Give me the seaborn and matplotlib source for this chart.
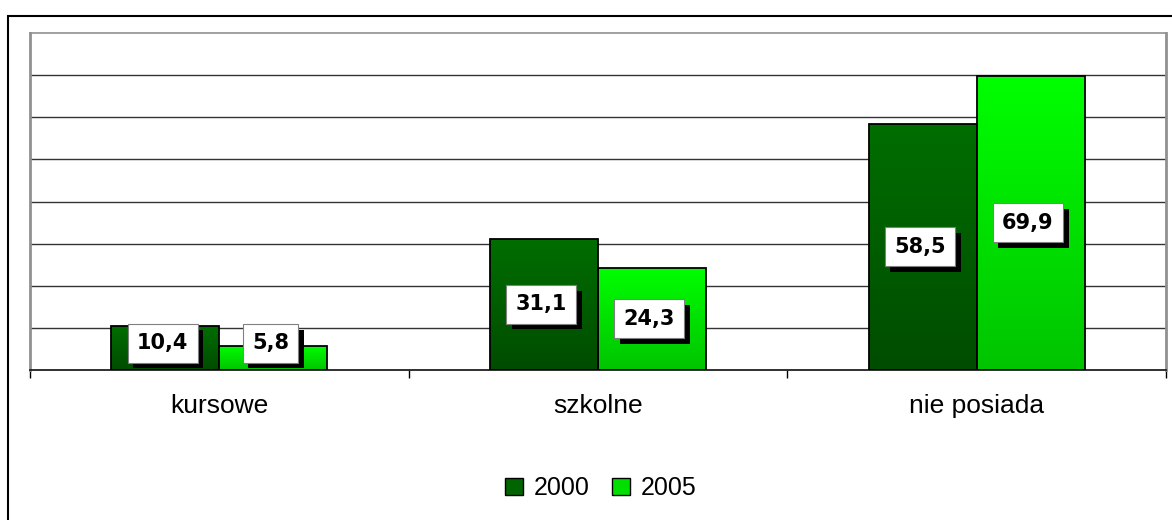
import numpy as np
import pandas as pd
import matplotlib
matplotlib.use("Agg")
import matplotlib.pyplot as plt
import matplotlib.patheffects as pe
from matplotlib.colors import LinearSegmentedColormap
from matplotlib.patches import Rectangle, Patch
import seaborn as sns

categories = ["kursowe", "szkolne", "nie posiada"]
years = ["2000", "2005"]
values_2000 = [10.4, 31.1, 58.5]
values_2005 = [5.8, 24.3, 69.9]
labels_2000 = ["10,4", "31,1", "58,5"]
labels_2005 = ["5,8", "24,3", "69,9"]

df = pd.DataFrame({
    "kategoria": categories * 2,
    "rok": [years[0]] * 3 + [years[1]] * 3,
    "wartosc": values_2000 + values_2005,
    "etykieta": labels_2000 + labels_2005,
})

sns.set_style("white")
plt.rcParams["font.family"] = ["Liberation Sans", "DejaVu Sans"]
plt.rcParams["text.color"] = "black"
plt.rcParams["xtick.color"] = "black"

fig = plt.figure(figsize=(11.72, 5.20), dpi=100)
ax = fig.add_axes([30 / 1172, 1 - 370 / 520, 1136 / 1172, 337 / 520])

legend_colors = {"2000": "#006400", "2005": "#00e000"}
grad_colors = {"2000": ("#004c00", "#006e00"), "2005": ("#00c400", "#00ff00")}

sns.barplot(data=df, x="kategoria", y="wartosc", hue="rok", order=categories,
            hue_order=years, palette=legend_colors, width=0.57, gap=0,
            saturation=1, ax=ax, legend=False, zorder=3)

# gradient fill for each bar, clipped to the bar shape
bars = [p for p in ax.patches if isinstance(p, Rectangle)]
for i, bar in enumerate(bars):
    yr = years[i // len(categories)]
    x0, y0 = bar.get_x(), bar.get_y()
    w, h = bar.get_width(), bar.get_height()
    cmap = LinearSegmentedColormap.from_list("g" + yr, grad_colors[yr])
    grad = np.linspace(0, 1, 256).reshape(-1, 1)
    im = ax.imshow(grad, cmap=cmap, origin="lower", aspect="auto",
                   extent=(x0, x0 + w, y0, y0 + h), zorder=3)
    im.set_clip_path(bar)
    bar.set_facecolor("none")
    bar.set_edgecolor("black")
    bar.set_linewidth(1.3)
    bar.set_zorder(4)

# value labels: white boxes with black drop shadow
for i, bar in enumerate(bars):
    row = df.iloc[i]
    xc = bar.get_x() + bar.get_width() / 2
    yc = max(row["wartosc"] / 2, 6.3)
    t = ax.annotate(row["etykieta"], (xc, yc), xytext=(-2, 0), textcoords="offset points",
                    ha="center", va="center", fontsize=15, fontweight="bold", color="black",
                    family="DejaVu Sans",
                    bbox=dict(boxstyle="square,pad=0.45", fc="white", ec="#808080", lw=0.8),
                    zorder=6)
    t.get_bbox_patch().set_path_effects([
        pe.SimplePatchShadow(offset=(4, -4), shadow_rgbFace="black", alpha=1.0),
        pe.Normal(),
    ])

ax.set_xlim(-0.5, 2.5)
ax.set_ylim(0, 80)
ax.set_yticks(np.arange(10, 80, 10))
ax.set_yticklabels([])
ax.yaxis.grid(True, color="#333333", linewidth=1.0)
ax.set_axisbelow(True)
ax.tick_params(axis="y", length=0)
ax.set_xticks(range(len(categories)))
ax.set_xticklabels(categories, fontsize=19, color="black")
ax.set_xticks([-0.5, 0.5, 1.5, 2.5], minor=True)
ax.tick_params(axis="x", which="major", length=0, pad=17)
ax.tick_params(axis="x", which="minor", length=6, width=1, color="black", bottom=True)
ax.set_xlabel("")
ax.set_ylabel("")
for side in ["left", "right", "top"]:
    ax.spines[side].set_color("#909090")
    ax.spines[side].set_visible(True)
ax.spines["left"].set_linewidth(2)
ax.spines["right"].set_linewidth(2)
ax.spines["top"].set_linewidth(1.2)
ax.spines["bottom"].set_color("#202020")
ax.spines["bottom"].set_linewidth(1.3)

handles = [Patch(facecolor=legend_colors[y], edgecolor="black", linewidth=1) for y in years]
fig.legend(handles, years, loc="center", bbox_to_anchor=(601 / 1172, 1 - 488 / 520), ncol=2,
           frameon=False, fontsize=18, handlelength=0.7, handleheight=0.7,
           handletextpad=0.45, columnspacing=0.9, labelcolor="black")

# outer frame (cut off by the image edge)
fig.patches.append(Rectangle((8 / 1172, -0.1), 1.2, 1 - 16 / 520 + 0.1,
                             transform=fig.transFigure, fill=False,
                             edgecolor="black", linewidth=1.5))

fig.savefig("out.png", dpi=100)
